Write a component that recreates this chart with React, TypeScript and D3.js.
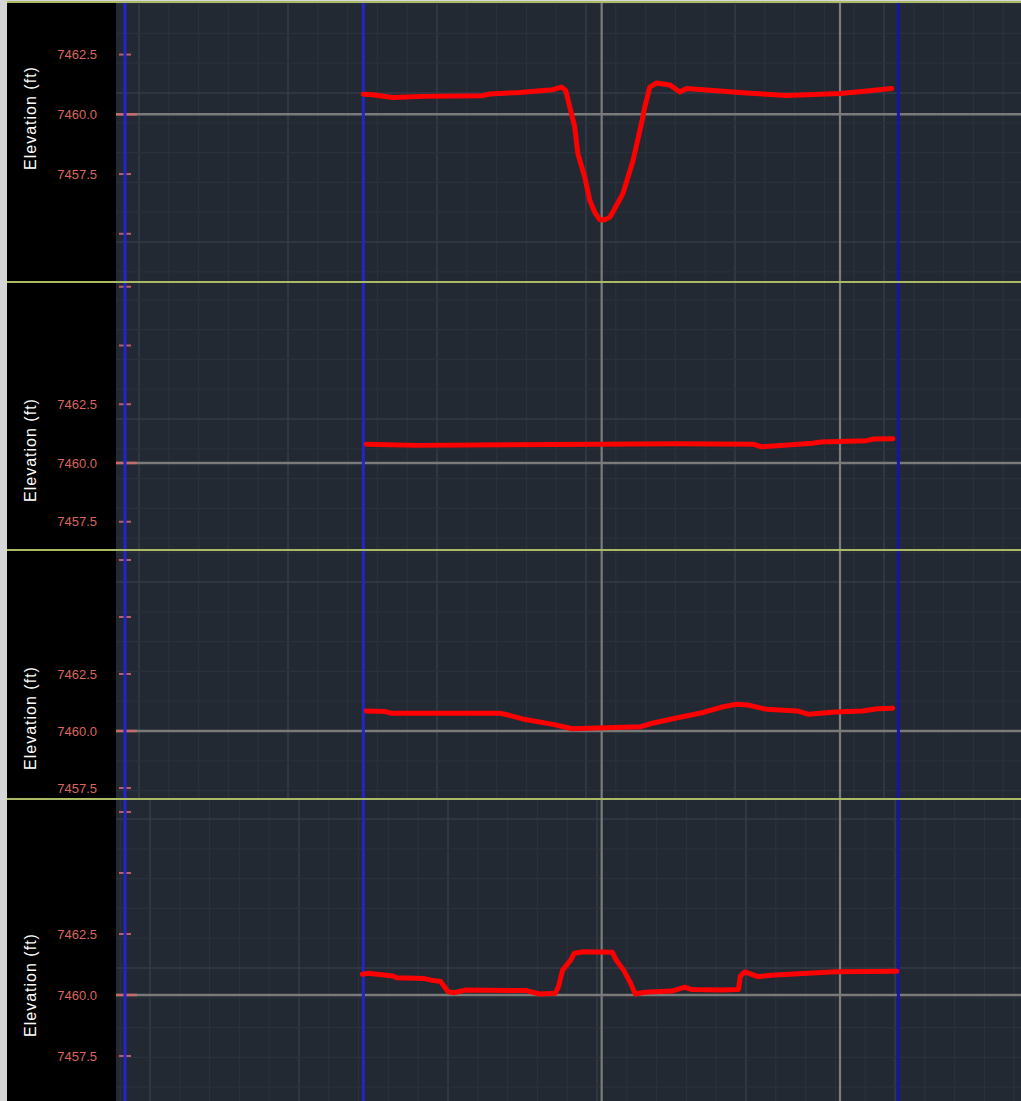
import React from 'react';
import * as d3 from 'd3';

const W = 1021;
const H = 1101;

// ---- data (offset ft, elevation ft) ----
const profile1Offset = [-10.0, -9.61, -8.77, -7.51, -4.99, -4.71, -3.45, -2.05, -1.69, -1.51, -1.34, -1.13, -1.0, -0.71, -0.5, -0.29, -0.08, 0.13, 0.34, 0.47, 0.89, 1.32, 1.67, 1.81, 2.02, 2.3, 2.86, 3.28, 3.56, 6.08, 7.76, 10.0, 10.7, 12.17];
const profile1Elev = [7460.84, 7460.82, 7460.7, 7460.75, 7460.78, 7460.85, 7460.91, 7461.03, 7461.14, 7461.0, 7460.31, 7459.47, 7458.36, 7457.38, 7456.4, 7455.9, 7455.59, 7455.59, 7455.69, 7455.91, 7456.68, 7458.08, 7459.62, 7460.31, 7461.14, 7461.31, 7461.23, 7460.93, 7461.08, 7460.89, 7460.79, 7460.87, 7460.93, 7461.08];

const profile2Offset = [-9.88, -7.8, -0.11, 3.09, 6.37, 6.7, 8.86, 9.18, 11.1, 11.42, 12.22];
const profile2Elev = [7460.8, 7460.75, 7460.8, 7460.82, 7460.8, 7460.69, 7460.84, 7460.89, 7460.95, 7461.02, 7461.03];

const profile3Offset = [-9.88, -9.08, -8.84, -4.28, -3.96, -3.32, -2.04, -1.24, 0.2, 1.64, 2.12, 3.08, 4.21, 5.0, 5.65, 6.13, 6.93, 8.21, 8.69, 9.81, 10.93, 11.57, 12.21];
const profile3Elev = [7460.88, 7460.85, 7460.78, 7460.78, 7460.71, 7460.53, 7460.29, 7460.1, 7460.14, 7460.19, 7460.34, 7460.56, 7460.8, 7461.04, 7461.17, 7461.14, 7460.95, 7460.88, 7460.73, 7460.83, 7460.88, 7460.98, 7461.0];

const profile4Offset = [-10.04, -9.8, -8.76, -8.61, -7.48, -7.16, -6.76, -6.45, -6.2, -5.71, -3.15, -2.61, -1.95, -1.81, -1.64, -1.3, -1.15, -0.76, 0.45, 0.61, 0.92, 1.18, 1.41, 1.81, 2.94, 3.49, 3.74, 5.03, 5.74, 5.82, 6.01, 6.55, 7.1, 9.83, 12.39];
const profile4Elev = [7460.85, 7460.89, 7460.78, 7460.71, 7460.68, 7460.61, 7460.55, 7460.14, 7460.09, 7460.2, 7460.18, 7460.04, 7460.07, 7460.34, 7461.02, 7461.43, 7461.71, 7461.77, 7461.75, 7461.43, 7461.02, 7460.55, 7460.04, 7460.11, 7460.16, 7460.32, 7460.23, 7460.2, 7460.23, 7460.78, 7460.95, 7460.75, 7460.81, 7460.95, 7460.97];

const ticksPanel1 = [7462.5, 7460, 7457.5, 7455];
const ticksPanelOther = [7467.5, 7465, 7462.5, 7460, 7457.5];
const labelTicks = [7462.5, 7460, 7457.5];
const baseElev = 7460;
const blueOffsets = [-20, -10, 12.45];
const grayOffsets = [0, 10];
const axisTitle = 'Elevation (ft)';

// ---- layout ----
const PLOT_X0 = 116;
const GRID = 29.8;
const FONT = '"Liberation Sans", Arial, sans-serif';

const xScale = d3.scaleLinear().domain([-20, 10]).range([125, 840]);

const panels = [
  { top: 2, bottom: 282, y0: 114.3, ppf: 23.9, titleY: 118, hAnchor: 93, vAnchor: 139, ticks: ticksPanel1, off: profile1Offset, elev: profile1Elev },
  { top: 282, bottom: 550, y0: 463, ppf: 23.5, titleY: 450, hAnchor: 419, vAnchor: 139, ticks: ticksPanelOther, off: profile2Offset, elev: profile2Elev },
  { top: 550, bottom: 799, y0: 731, ppf: 22.8, titleY: 718, hAnchor: 582, vAnchor: 139, ticks: ticksPanelOther, off: profile3Offset, elev: profile3Elev },
  { top: 799, bottom: 1101, y0: 995, ppf: 24.4, titleY: 985, hAnchor: 968, vAnchor: 150, ticks: ticksPanelOther, off: profile4Offset, elev: profile4Elev },
];

export default function App() {
  return (
    <div style={{ position: 'absolute', left: 0, top: 0, width: W, height: H }}>
      <svg width={W} height={H} style={{ display: 'block' }}>
        <defs>
          {panels.map((p, i) => (
            <clipPath id={`clip${i}`} key={i}>
              <rect x={PLOT_X0} y={p.top} width={W - PLOT_X0} height={p.bottom - p.top} />
            </clipPath>
          ))}
        </defs>
        <rect x={0} y={0} width={W} height={H} fill="#d6d6d6" />
        <rect x={7} y={2} width={PLOT_X0 - 7} height={H} fill="#000" />
        <rect x={PLOT_X0} y={2} width={W - PLOT_X0} height={H} fill="#232932" />

        {panels.map((p, i) => {
          const y = d3.scaleLinear().domain([baseElev - 2.5, baseElev + 2.5]).range([p.y0 + 2.5 * p.ppf, p.y0 - 2.5 * p.ppf]);
          const vLines = d3.range(-10, 40).map((k) => ({ v: p.vAnchor + k * GRID, major: k % 5 === 0 })).filter((d) => d.v > PLOT_X0 && d.v < W);
          const hLines = d3.range(-15, 15).map((k) => ({ v: p.hAnchor + k * GRID, major: k % 5 === 0 })).filter((d) => d.v > p.top && d.v < p.bottom);
          const pts: [number, number][] = p.off.map((o, j) => [o, p.elev[j]]);
          const line = d3.line<[number, number]>().x((d) => xScale(d[0])).y((d) => y(d[1]));
          return (
            <g key={i}>
              <g clipPath={`url(#clip${i})`}>
                {vLines.map((d, j) => (
                  <line key={`v${j}`} x1={d.v} x2={d.v} y1={p.top} y2={p.bottom} stroke={d.major ? '#343b49' : '#2b313b'} strokeWidth={d.major ? 1.6 : 1.3} />
                ))}
                {hLines.map((d, j) => (
                  <line key={`h${j}`} x1={PLOT_X0} x2={W} y1={d.v} y2={d.v} stroke={d.major ? '#343b49' : '#2b313b'} strokeWidth={d.major ? 1.6 : 1.3} />
                ))}
                {grayOffsets.map((o, j) => (
                  <line key={`g${j}`} x1={xScale(o)} x2={xScale(o)} y1={p.top} y2={p.bottom} stroke="#7c7c7c" strokeWidth={2.2} />
                ))}
                <line x1={PLOT_X0} x2={W} y1={y(baseElev)} y2={y(baseElev)} stroke="#7a7a7a" strokeWidth={2.4} />
                <line x1={PLOT_X0} x2={137} y1={y(baseElev)} y2={y(baseElev)} stroke="#c86a66" strokeWidth={2.4} />
                {p.ticks.filter((t) => t !== baseElev).map((t, j) => (
                  <line key={`t${j}`} x1={119} x2={131} y1={y(t)} y2={y(t)} stroke="#b8606a" strokeWidth={2} />
                ))}
                {blueOffsets.map((o, j) => (
                  <line key={`b${j}`} x1={xScale(o)} x2={xScale(o)} y1={p.top} y2={p.bottom} stroke={j === 2 ? '#1515aa' : '#2424c8'} strokeWidth={3} />
                ))}
                <path d={line(pts) || ''} fill="none" stroke="#ff0000" strokeWidth={5} strokeLinejoin="round" strokeLinecap="round" />
              </g>
              {labelTicks.map((t, j) => (
                <text key={`l${j}`} x={97} y={y(t)} dy="0.35em" textAnchor="end" fill="#d9665f" fontSize={13} fontFamily={FONT}>
                  {t.toFixed(1)}
                </text>
              ))}
              <text
                transform={`translate(36, ${p.titleY}) rotate(-90)`}
                textAnchor="middle"
                fill="#ffffff"
                fontSize={16}
                letterSpacing={1}
                fontFamily={FONT}
              >
                {axisTitle}
              </text>
            </g>
          );
        })}

        {panels.map((p, i) => (
          <line key={`sep${i}`} x1={7} x2={W} y1={p.top} y2={p.top} stroke="#a9b964" strokeWidth={2} />
        ))}
      </svg>
    </div>
  );
}
